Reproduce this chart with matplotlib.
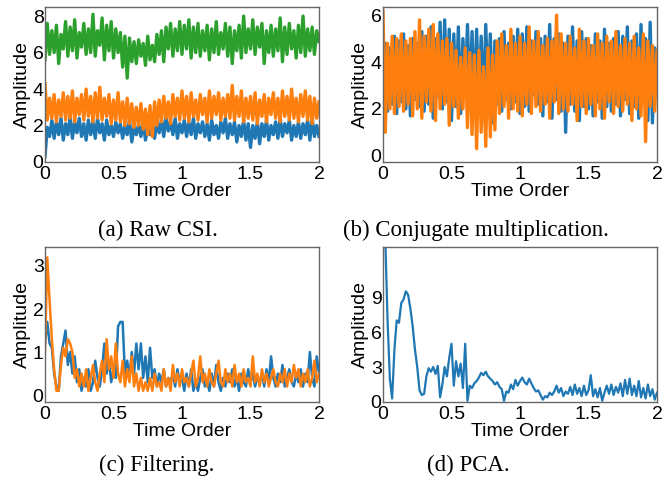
import numpy as np
import matplotlib
matplotlib.use('Agg')
import matplotlib.pyplot as plt

#%% data (121 samples on 0..2)
t = np.linspace(0, 2, 121)

# (a) raw CSI
raw_blue = [0.3, 1.9, 1.4, 2.3, 1.3, 2.2, 1.5, 2.4, 1.2, 2.1,
            1.5, 2.5, 1.3, 2.2, 1.6, 2.4, 1.4, 2.1, 1.2, 2.3,
            1.5, 2.2, 1.3, 2.4, 1.6, 2.1, 1.2, 2.3, 1.5, 2.0,
            1.4, 2.2, 1.6, 2.1, 1.3, 2.0, 1.5, 2.3, 1.1, 1.9,
            1.5, 2.1, 1.4, 2.2, 1.2, 1.9, 1.5, 2.0, 1.3, 2.2,
            1.6, 2.3, 1.4, 2.5, 1.7, 2.2, 1.5, 2.4, 1.3, 2.1,
            1.6, 2.3, 1.4, 2.2, 1.5, 2.4, 1.3, 2.1, 1.6, 2.2,
            1.4, 2.1, 1.2, 2.3, 1.5, 2.0, 1.3, 2.2, 1.6, 2.4,
            1.3, 2.1, 1.5, 2.2, 1.1, 2.0, 1.4, 2.3, 1.2, 2.1,
            0.8, 2.0, 1.3, 2.2, 1.0, 2.1, 1.4, 2.3, 1.2, 2.0,
            1.5, 2.2, 1.3, 2.4, 1.4, 2.1, 1.6, 2.3, 1.2, 2.0,
            1.4, 2.2, 1.3, 2.1, 1.5, 2.3, 1.2, 2.4, 1.4, 2.0, 1.4]
raw_orange = [4.3, 2.3, 3.5, 2.4, 3.7, 2.2, 3.4, 2.5, 3.8, 2.3,
              3.6, 2.4, 3.9, 2.2, 3.5, 2.6, 3.7, 2.3, 4.0, 2.5,
              3.6, 2.2, 3.8, 2.4, 4.1, 2.3, 3.5, 2.5, 3.7, 2.1,
              3.4, 2.3, 3.8, 2.2, 3.3, 2.0, 3.5, 2.1, 3.2, 1.9,
              3.0, 2.0, 3.2, 1.8, 2.9, 1.5, 3.1, 1.4, 3.3, 2.0,
              3.4, 2.2, 3.6, 2.4, 3.3, 2.1, 3.7, 2.5, 3.5, 2.3,
              3.9, 2.4, 3.6, 2.2, 3.8, 2.5, 3.4, 2.3, 3.7, 2.6,
              3.5, 2.2, 3.9, 2.4, 3.6, 2.6, 3.8, 2.3, 3.5, 2.5,
              3.7, 2.4, 4.2, 2.3, 3.6, 2.5, 3.9, 2.2, 3.5, 2.4,
              3.6, 2.3, 3.8, 2.1, 3.4, 2.5, 3.7, 2.2, 3.5, 2.6,
              3.8, 2.4, 3.5, 2.2, 3.9, 2.5, 3.6, 2.3, 4.0, 2.4,
              3.5, 2.2, 3.7, 2.5, 3.9, 2.3, 3.6, 2.1, 3.5, 2.4, 3.3]
raw_green = [5.6, 7.6, 5.9, 7.2, 6.0, 7.5, 5.4, 7.0, 6.2, 7.7,
             5.8, 7.4, 6.1, 7.8, 5.7, 7.1, 6.3, 7.6, 5.9, 7.3,
             6.0, 8.1, 5.8, 7.2, 6.4, 7.9, 5.6, 7.5, 6.1, 7.7,
             5.7, 7.3, 6.0, 7.1, 5.2, 6.9, 4.6, 6.8, 5.5, 6.6,
             5.4, 6.7, 5.8, 6.5, 5.3, 6.9, 5.6, 6.4, 5.5, 7.0,
             5.9, 7.2, 5.5, 7.4, 6.2, 7.6, 5.8, 7.3, 6.1, 7.7,
             5.9, 7.5, 6.2, 7.8, 5.7, 7.4, 6.0, 7.6, 5.8, 7.2,
             6.1, 7.5, 5.6, 7.3, 6.0, 7.7, 5.9, 7.1, 6.2, 7.6,
             5.8, 7.4, 5.4, 7.2, 6.1, 7.5, 5.7, 8.0, 6.0, 7.3,
             6.2, 7.8, 5.9, 7.4, 6.3, 7.6, 5.4, 7.2, 6.0, 7.5,
             5.8, 7.3, 6.1, 7.9, 5.5, 7.4, 5.9, 7.6, 6.2, 7.2,
             5.7, 7.5, 6.0, 8.0, 5.8, 7.3, 6.1, 7.4, 5.9, 7.2, 6.6]

# (b) conjugate multiplication
conj_blue = [3.0, 4.8, 1.9, 4.6, 2.2, 5.1, 1.8, 4.9, 2.3, 5.2,
             2.0, 4.7, 1.7, 5.0, 2.4, 4.8, 2.1, 5.3, 1.9, 5.1,
             2.2, 5.5, 1.6, 5.0, 2.5, 5.7, 2.0, 5.8, 2.3, 5.4,
             1.5, 5.2, 2.1, 5.5, 1.8, 5.0, 2.6, 5.6, 2.2, 5.3,
             2.0, 5.4, 2.3, 5.1, 1.7, 5.6, 2.5, 5.2, 1.4, 4.9,
             2.2, 5.0, 1.9, 5.3, 2.4, 4.8, 2.0, 5.1, 2.3, 5.4,
             1.8, 5.2, 2.1, 5.5, 1.9, 4.9, 2.6, 5.3, 2.2, 5.0,
             1.7, 5.1, 2.3, 5.6, 1.6, 5.0, 2.4, 5.2, 1.9, 4.8,
             1.0, 5.1, 2.2, 5.5, 1.9, 4.9, 1.5, 5.3, 2.1, 5.0,
             2.0, 4.7, 1.7, 5.2, 2.3, 4.9, 1.6, 5.4, 2.1, 4.8,
             1.9, 5.0, 2.2, 5.3, 1.7, 5.1, 2.4, 5.5, 1.8, 4.9,
             2.1, 5.2, 1.6, 5.6, 2.3, 5.0, 1.5, 5.7, 1.4, 4.6, 3.5]
conj_orange = [6.2, 1.0, 4.8, 2.0, 5.1, 1.8, 5.0, 2.1, 5.2, 1.9,
               4.9, 2.2, 5.0, 1.7, 5.3, 2.0, 5.8, 1.6, 5.1, 2.3,
               5.4, 1.9, 5.6, 1.5, 5.2, 2.0, 4.9, 2.2, 5.0, 1.3,
               4.8, 2.1, 4.5, 1.6, 4.2, 2.0, 4.6, 1.2, 4.4, 0.9,
               4.3, 0.3, 4.5, 1.0, 3.8, 0.4, 4.6, 0.8, 4.3, 1.1,
               4.9, 1.8, 5.2, 2.1, 4.7, 1.6, 5.4, 2.0, 4.8, 1.9,
               5.1, 1.7, 4.8, 2.2, 5.5, 1.8, 4.9, 2.1, 5.3, 1.9,
               4.7, 2.2, 5.0, 1.6, 4.9, 2.3, 6.0, 1.8, 5.2, 2.0,
               4.8, 1.9, 5.1, 2.2, 4.6, 1.5, 5.4, 2.1, 4.9, 1.8,
               5.0, 2.2, 4.7, 1.7, 5.2, 2.0, 4.8, 1.6, 5.1, 2.3,
               4.9, 1.8, 5.3, 2.1, 4.7, 1.9, 5.0, 2.2, 4.8, 1.5,
               5.1, 2.0, 4.6, 1.7, 5.2, 0.6, 4.9, 2.1, 4.7, 1.9, 4.5]

# (c) filtering
filt_blue = [1.2, 1.7, 1.2, 1.1, 0.5, 0.2, 0.1, 0.9, 1.2, 1.5,
             0.7, 1.0, 0.5, 0.9, 0.3, 0.6, 0.1, 0.4, 0.2, 0.6,
             0.1, 0.3, 0.8, 0.4, 0.2, 0.6, 1.2, 0.5, 0.8, 0.3,
             0.6, 0.4, 1.6, 1.7, 1.7, 0.5, 0.8, 0.4, 1.0, 0.5,
             1.2, 0.6, 1.2, 0.4, 0.9, 0.3, 1.1, 0.4, 0.6, 0.2,
             0.5, 0.3, 0.6, 0.2, 0.4, 0.3, 0.5, 0.2, 0.6, 0.3,
             0.4, 0.1, 0.5, 0.2, 0.6, 0.1, 0.3, 0.1, 0.4, 0.6,
             0.2, 0.3, 0.1, 0.5, 0.2, 0.7, 0.3, 0.1, 0.4, 0.2,
             0.5, 0.3, 0.6, 0.2, 0.4, 0.1, 0.5, 0.3, 0.2, 0.6,
             0.3, 0.5, 0.2, 0.4, 0.3, 0.5, 0.2, 0.6, 0.3, 0.9,
             0.4, 0.2, 0.5, 0.3, 0.7, 0.2, 0.4, 0.6, 0.3, 0.2,
             0.5, 0.3, 0.6, 0.2, 0.5, 0.3, 1.0, 0.4, 0.2, 0.9, 0.5]
filt_orange = [1.0, 3.2, 2.2, 1.3, 0.6, 0.1, 0.1, 0.7, 1.1, 0.9,
               1.3, 1.2, 1.0, 0.4, 0.6, 0.2, 0.5, 0.2, 0.6, 0.1,
               0.4, 0.7, 0.3, 0.1, 0.5, 0.8, 0.3, 1.3, 0.6, 0.9,
               0.4, 1.2, 0.5, 0.3, 0.8, 0.2, 0.6, 0.3, 0.9, 0.2,
               0.5, 0.1, 0.4, 0.1, 0.3, 0.1, 0.4, 0.1, 0.5, 0.2,
               0.3, 0.1, 0.6, 0.2, 0.4, 0.1, 0.7, 0.3, 0.5, 0.2,
               0.6, 0.3, 0.4, 0.2, 0.5, 0.8, 0.2, 0.4, 0.9, 0.3,
               0.5, 0.2, 0.6, 0.3, 0.2, 0.5, 0.8, 0.3, 0.2, 0.6,
               0.3, 0.5, 0.2, 0.7, 0.3, 0.5, 0.2, 0.6, 0.3, 0.4,
               0.2, 0.9, 0.3, 0.5, 0.2, 0.6, 0.3, 0.5, 0.2, 0.4,
               0.6, 0.3, 0.2, 0.5, 0.3, 0.6, 0.2, 0.5, 0.3, 0.7,
               0.4, 0.6, 0.2, 0.5, 0.3, 0.6, 0.2, 0.4, 0.8, 0.3, 0.5]

# (d) PCA
pca = [14, 14, 7.0, 2.0, 0.3, 4.5, 7.0, 6.8, 8.5, 8.8,
       9.5, 9.2, 8.0, 6.5, 4.5, 3.0, 1.0, 0.6, 0.7, 2.2,
       2.9, 2.6, 3.0, 2.4, 3.1, 0.4, 1.5, 3.0, 2.2, 3.8,
       5.0, 1.4, 3.5, 2.2, 3.3, 1.2, 5.0, 0.1, 1.4, 1.2,
       1.6, 1.8, 2.1, 2.5, 2.3, 2.6, 2.2, 2.0, 1.8, 1.5,
       1.7, 1.3, 1.1, 0.1, 0.9, 0.8, 1.5, 1.1, 1.9, 1.4,
       1.8, 2.1, 1.7, 1.5, 2.0, 1.6, 1.2, 0.9, 1.0, 0.6,
       0.2, 0.5, 0.4, 0.8, 0.6, 0.9, 1.4, 0.8, 1.2, 0.5,
       0.9, 0.7, 1.3, 0.6, 1.5, 0.7, 1.2, 0.5, 1.4, 0.6,
       1.0, 2.3, 0.5, 1.1, 0.4, 1.2, 0.1, 0.8, 1.4, 0.7,
       1.5, 0.6, 1.3, 0.8, 1.6, 0.5, 1.9, 0.7, 2.0, 0.6,
       1.4, 0.5, 1.8, 0.4, 1.2, 0.3, 1.5, 0.5, 1.1, 0.2, 0.8]

captions = ['(a) Raw CSI.', '(b) Conjugate multiplication.',
            '(c) Filtering.', '(d) PCA.']

#%% plot
plt.rcParams['font.family'] = 'Liberation Sans'
blue, orange, green = '#1f77b4', '#ff7f0e', '#2ca02c'

fig = plt.figure(figsize=(6.68, 4.8), dpi=100)
L1, L2, W = 45/668, 383/668, 274/668
B1, B2, H = 318/480, 78/480, 155/480
axa = fig.add_axes([L1, B1, W, H])
axb = fig.add_axes([L2, B1, W, H])
axc = fig.add_axes([L1, B2, W, H])
axd = fig.add_axes([L2, B2, W, H])

lw = 2.4  # thick enough that the raw noise reads as a band
axa.plot(t, raw_blue, color=blue, lw=lw)
axa.plot(t, raw_orange, color=orange, lw=lw)
axa.plot(t, raw_green, color=green, lw=lw)
axa.set_ylim(0, 8.5)
axa.set_yticks([0, 2, 4, 6, 8])

axb.plot(t, conj_blue, color=blue, lw=lw)
axb.plot(t, conj_orange, color=orange, lw=lw)
axb.set_ylim(-0.27, 6.35)
axb.set_yticks([0, 2, 4, 6])

axc.plot(t, filt_blue, color=blue, lw=1.8)
axc.plot(t, filt_orange, color=orange, lw=1.8)
axc.set_ylim(-0.16, 3.44)
axc.set_yticks([0, 1, 2, 3])

axd.plot(t, pca, color=blue, lw=1.6)
axd.set_ylim(0, 13.3)
axd.set_yticks([0, 3, 6, 9])

for ax in [axa, axb, axc, axd]:
    ax.set_xlim(0, 2)
    ax.set_xticks([0, 0.5, 1, 1.5, 2])
    ax.set_xticklabels(['0', '0.5', '1', '1.5', '2'])
    ax.tick_params(length=0, labelsize=14)
    ax.tick_params(axis='x', pad=3)
    ax.tick_params(axis='y', pad=1)
    ax.set_xlabel('Time Order', fontsize=14, labelpad=0)
    ax.set_ylabel('Amplitude', fontsize=14, labelpad=1)
    for s in ax.spines.values():
        s.set_color('#666666')
        s.set_linewidth(1.0)

fig.text(158/668, 1 - 230/480, captions[0], ha='center', va='center', family='Liberation Serif', fontsize=16.5)
fig.text(476/668, 1 - 230/480, captions[1], ha='center', va='center', family='Liberation Serif', fontsize=16.5)
fig.text(157/668, 1 - 465/480, captions[2], ha='center', va='center', family='Liberation Serif', fontsize=16.5)
fig.text(468/668, 1 - 465/480, captions[3], ha='center', va='center', family='Liberation Serif', fontsize=16.5)

fig.savefig('out.png', dpi=100)
plt.close()
